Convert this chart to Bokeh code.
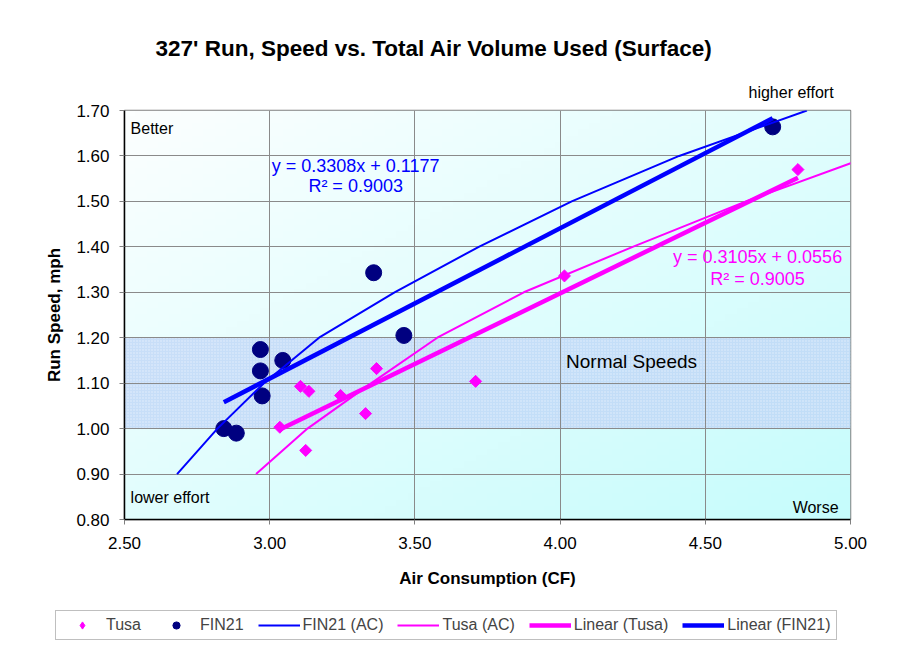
import numpy as np
from bokeh.plotting import figure
from bokeh.layouts import column
from bokeh.models import (Range1d, FixedTicker, NumeralTickFormatter, Label,
                          Legend, LegendItem, BoxAnnotation, Title)
from bokeh.embed import file_html
from bokeh.resources import INLINE

# ---------------- data ----------------
tusa_x = [3.035, 3.106, 3.124, 3.135, 3.244, 3.330, 3.368, 3.709, 4.015, 4.819]
tusa_y = [1.003, 1.093, 0.952, 1.082, 1.073, 1.033, 1.132, 1.104, 1.336, 1.570]

fin_x = [2.842, 2.885, 2.968, 2.968, 2.974, 3.045, 3.358, 3.462, 4.732]
fin_y = [1.000, 0.990, 1.174, 1.127, 1.072, 1.150, 1.343, 1.205, 1.664]

fin_ac_x = [2.681, 2.82, 2.98, 3.17, 3.43, 3.72, 4.04, 4.41, 4.85]
fin_ac_y = [0.90, 1.00, 1.10, 1.20, 1.30, 1.40, 1.50, 1.60, 1.70]

tusa_ac_x = [2.953, 3.13, 3.35, 3.577, 3.875, 4.25, 4.64, 5.07]
tusa_ac_y = [0.90, 1.00, 1.10, 1.20, 1.30, 1.40, 1.50, 1.60]

lin_tusa_x = [3.035, 4.819]
lin_tusa_y = [0.998, 1.552]
lin_fin_x = [2.842, 4.732]
lin_fin_y = [1.058, 1.683]

x_ticks = [2.50, 3.00, 3.50, 4.00, 4.50, 5.00]
y_ticks = [0.80, 0.90, 1.00, 1.10, 1.20, 1.30, 1.40, 1.50, 1.60, 1.70]
normal_low, normal_high = 1.00, 1.20

eq_fin = ["y = 0.3308x + 0.1177", "R² = 0.9003"]
eq_tusa = ["y = 0.3105x + 0.0556", "R² = 0.9005"]
legend_labels = ["Tusa", "FIN21", "FIN21 (AC)", "Tusa (AC)", "Linear (Tusa)", "Linear (FIN21)"]

FONT = "Liberation Sans"
BLUE = "#0000ff"
MAG = "#ff00ff"
NAVY = "#000080"

p = figure(width=890, height=605,
           x_range=Range1d(x_ticks[0], x_ticks[-1]),
           y_range=Range1d(y_ticks[0], y_ticks[-1]),
           output_backend="svg", toolbar_location=None, title_location=None,
           min_border_left=124, min_border_right=40,
           min_border_top=110, min_border_bottom=86)
p.frame_align = False
p.background_fill_color = "white"
p.border_fill_color = "white"
p.outline_line_color = "#808080"
p.outline_line_width = 1.5

# gradient background of the plot area (white top-left -> light cyan bottom-right)
n = 64
img = np.empty((n, n), dtype=np.uint32)
view = img.view(dtype=np.uint8).reshape((n, n, 4))
c0 = np.array([252, 255, 255], dtype=float)
c1 = np.array([198, 252, 252], dtype=float)
ii, jj = np.meshgrid(np.arange(n), np.arange(n), indexing="ij")
t = ((n - 1 - ii) + jj) / (2.0 * (n - 1))
for k in range(3):
    view[:, :, k] = (c0[k] * (1 - t) + c1[k] * t).astype(np.uint8)
view[:, :, 3] = 255
p.image_rgba(image=[img], x=x_ticks[0], y=y_ticks[0],
             dw=x_ticks[-1] - x_ticks[0], dh=y_ticks[-1] - y_ticks[0], level="image")

band = BoxAnnotation(bottom=normal_low, top=normal_high, fill_color="#bcd3f5",
                     fill_alpha=0.75, hatch_pattern="dot", hatch_color="#ffffff",
                     hatch_alpha=0.55, hatch_scale=3, line_color="#9fb6dc",
                     line_dash="2 2", line_width=1, level="image")
p.add_layout(band)

# axes
for ax, ticks in ((p.xaxis, x_ticks), (p.yaxis, y_ticks)):
    ax.ticker = FixedTicker(ticks=ticks)
    ax.formatter = NumeralTickFormatter(format="0.00")
    ax.major_label_text_font = FONT
    ax.major_label_text_font_size = "17px"
    ax.major_label_text_color = "black"
    ax.axis_label_text_font = FONT
    ax.axis_label_text_font_size = "17px"
    ax.axis_label_text_font_style = "bold"
    ax.axis_label_text_color = "black"
    ax.axis_line_color = "black"
    ax.axis_line_width = 1.5
    ax.major_tick_line_color = "#808080"
    ax.major_tick_in = 0
    ax.major_tick_out = 5
    ax.minor_tick_line_color = None
p.xaxis.axis_label = "Air Consumption (CF)"
p.yaxis.axis_label = "Run Speed, mph"
p.xaxis.major_label_standoff = 12
p.xaxis.axis_label_standoff = 17
p.yaxis.major_label_standoff = 10
p.yaxis.axis_label_standoff = 9

p.xgrid.ticker = FixedTicker(ticks=x_ticks)
p.ygrid.ticker = FixedTicker(ticks=y_ticks)
for g in (p.xgrid, p.ygrid):
    g.grid_line_color = "#8a8a8a"
    g.grid_line_width = 1

# series styles
tusa_style = dict(marker="square", angle=np.pi / 4, size=8.5, fill_color=MAG, line_color=MAG)
fin_style = dict(marker="circle", size=16, fill_color=NAVY, line_color=NAVY)
fin_ac_style = dict(line_color=BLUE, line_width=2)
tusa_ac_style = dict(line_color=MAG, line_width=2)
lin_tusa_style = dict(line_color=MAG, line_width=4.5)
lin_fin_style = dict(line_color=BLUE, line_width=4.5)

p.scatter(tusa_x, tusa_y, **tusa_style)
p.scatter(fin_x, fin_y, **fin_style)
p.line(fin_ac_x, fin_ac_y, **fin_ac_style)
p.line(tusa_ac_x, tusa_ac_y, **tusa_ac_style)
p.line(lin_tusa_x, lin_tusa_y, **lin_tusa_style)
p.line(lin_fin_x, lin_fin_y, **lin_fin_style)

# titles above the frame (first added sits nearest the frame)
t_high = Title(text="higher effort", align="left", offset=624, text_font=FONT,
               text_font_size="16px", text_font_style="normal", text_color="black",
               standoff=19)
t_main = Title(text="327' Run, Speed vs. Total Air Volume Used (Surface)",
               align="left", offset=31, text_font=FONT, text_font_size="22.5px",
               text_font_style="bold", text_color="black", standoff=24)
p.add_layout(t_high, "above")
p.add_layout(t_main, "above")

# text annotations inside the plot area
def add_label(x, y, text, size="16px", color="black", align="left",
              style="normal", baseline="middle"):
    p.add_layout(Label(x=x, y=y, text=text, text_font=FONT, text_font_size=size,
                       text_color=color, text_align=align, text_baseline=baseline,
                       text_font_style=style))

add_label(2.521, 1.660, "Better")
add_label(2.521, 0.849, "lower effort")
add_label(4.959, 0.827, "Worse", align="right")
add_label(4.246, 1.148, "Normal Speeds", size="19px", align="center")
add_label(3.296, 1.578, eq_fin[0], size="18px", color=BLUE, align="center")
add_label(3.296, 1.534, eq_fin[1], size="18px", color=BLUE, align="center")
add_label(4.680, 1.378, eq_tusa[0], size="18px", color=MAG, align="center")
add_label(4.680, 1.329, eq_tusa[1], size="18px", color=MAG, align="center")

# legend strip below the chart (its own series sit outside its view, only the legend shows)
lg = figure(width=890, height=40, output_backend="svg", toolbar_location=None,
            title_location=None, x_axis_type=None, y_axis_type=None,
            x_range=Range1d(0, 1), y_range=Range1d(0, 1),
            min_border_left=0, min_border_right=0, min_border_top=0, min_border_bottom=0)
lg.frame_align = False
lg.grid.visible = False
lg.outline_line_color = None
lg.background_fill_color = "white"
lg.border_fill_color = "white"
legend_tusa_style = dict(marker="diamond", size=12, fill_color=MAG, line_color=MAG)
rs = [
    lg.scatter(tusa_x, tusa_y, **legend_tusa_style),
    lg.scatter(fin_x, fin_y, **fin_style),
    lg.line(fin_ac_x, fin_ac_y, **fin_ac_style),
    lg.line(tusa_ac_x, tusa_ac_y, **tusa_ac_style),
    lg.line(lin_tusa_x, lin_tusa_y, **lin_tusa_style),
    lg.line(lin_fin_x, lin_fin_y, **lin_fin_style),
]
legend = Legend(items=[LegendItem(label=lab, renderers=[r]) for lab, r in zip(legend_labels, rs)],
                orientation="horizontal", location=(55, 5))
legend.label_text_font = FONT
legend.label_text_font_size = "16px"
legend.glyph_width = 42
legend.glyph_height = 18
legend.label_height = 18
legend.label_standoff = 3
legend.spacing = 14
legend.padding = 5
legend.margin = 0
legend.border_line_color = "#808080"
legend.border_line_width = 1
legend.background_fill_color = "white"
legend.background_fill_alpha = 1
lg.add_layout(legend)

layout = column(p, lg, spacing=0)
open("out.html", "w").write(file_html(layout, INLINE))
